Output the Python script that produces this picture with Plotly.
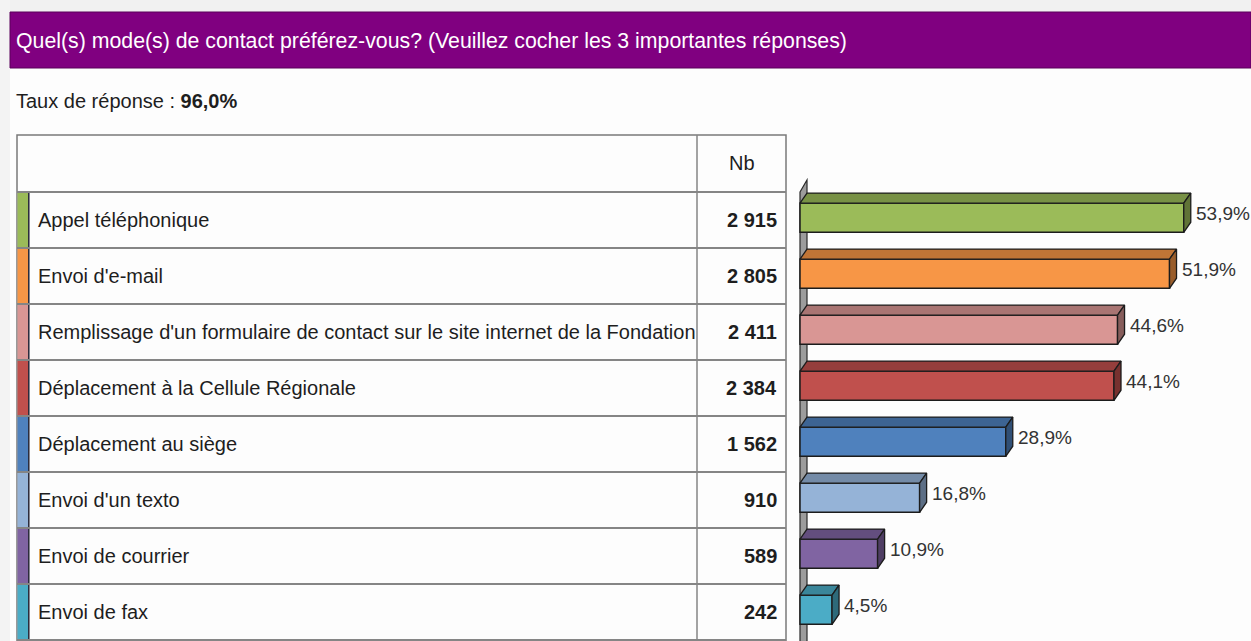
import plotly.graph_objects as go

# ---- data -------------------------------------------------------------
title_text = "Quel(s) mode(s) de contact préférez-vous? (Veuillez cocher les 3 importantes réponses)"
response_rate = "96,0%"
count_header = "Nb"

categories = [
    "Appel téléphonique",
    "Envoi d'e-mail",
    "Remplissage d'un formulaire de contact sur le site internet de la Fondation",
    "Déplacement à la Cellule Régionale",
    "Déplacement au siège",
    "Envoi d'un texto",
    "Envoi de courrier",
    "Envoi de fax",
]
counts = [2915, 2805, 2411, 2384, 1562, 910, 589, 242]
percentages = [53.9, 51.9, 44.6, 44.1, 28.9, 16.8, 10.9, 4.5]
colors = ["#9BBB59", "#F79646", "#D99694", "#C0504D",
          "#4F81BD", "#95B3D7", "#8064A2", "#4BACC6"]

# ---- geometry (pixels) ------------------------------------------------
W, H = 1251, 641
ROW_TOP, ROW_H = 192, 56          # first data row top edge and row height
HEAD_TOP = 135                    # table header top
TBL_L, TBL_R, COL_DIV = 17, 786, 697
STRIP_R = 28
BAR_X0, PX_PER_PCT = 800, 7.12    # where 0 % sits and horizontal scale
DEPTH_X_PX, DEPTH_Y = 7, 0.18     # 3D depth (px horizontally, rows vertically)
BAR_OFF, BAR_W = -0.30, 0.52      # bar front relative to row centre (rows)

FONT = "Liberation Sans, Arial, sans-serif"
TXT = "#1e1e1e"


def px(x):
    return x / W


def py(y):
    return 1 - y / H


def shade(hex_color, f):
    h = hex_color.lstrip("#")
    r, g, b = (int(h[i:i + 2], 16) for i in (0, 2, 4))
    return "#{:02x}{:02x}{:02x}".format(int(r * f), int(g * f), int(b * f))


n = len(categories)
rows = list(range(n))
DX = DEPTH_X_PX / PX_PER_PCT

fig = go.Figure()

# front faces of the bars
fig.add_trace(go.Bar(
    x=percentages, y=rows, orientation="h",
    width=BAR_W, offset=BAR_OFF, base=0,
    marker=dict(color=colors, line=dict(color="#1c1c1c", width=1.5)),
    hoverinfo="skip", showlegend=False,
))

# top and side faces giving the bars their depth
for i, (v, c) in enumerate(zip(percentages, colors)):
    t = i + BAR_OFF
    b = t + BAR_W
    fig.add_trace(go.Scatter(
        x=[0, v, v + DX, DX, 0], y=[t, t, t - DEPTH_Y, t - DEPTH_Y, t],
        mode="lines", fill="toself", fillcolor=shade(c, 0.78),
        line=dict(color="#1c1c1c", width=1.3),
        hoverinfo="skip", showlegend=False,
    ))
    fig.add_trace(go.Scatter(
        x=[v, v + DX, v + DX, v, v], y=[t, t - DEPTH_Y, b - DEPTH_Y, b, t],
        mode="lines", fill="toself", fillcolor=shade(c, 0.62),
        line=dict(color="#1c1c1c", width=1.3),
        hoverinfo="skip", showlegend=False,
    ))
    fig.add_annotation(
        x=v + DX, y=i - 0.12, xref="x", yref="y",
        text=f"{v:.1f}%".replace(".", ","), showarrow=False,
        xanchor="left", yanchor="middle", xshift=3,
        font=dict(family=FONT, size=19, color="#333333"),
    )

shapes = []
# page background details and heading band
shapes.append(dict(type="rect", xref="paper", yref="paper", x0=0, x1=1,
                   y0=py(12), y1=1, fillcolor="#f1f1f1", line_width=0, layer="below"))
shapes.append(dict(type="rect", xref="paper", yref="paper", x0=0, x1=px(10),
                   y0=0, y1=1, fillcolor="#f3f3f3", line_width=0, layer="below"))
shapes.append(dict(type="rect", xref="paper", yref="paper", x0=px(10), x1=1,
                   y0=py(68), y1=py(12), fillcolor="#800080",
                   line=dict(color="#5a005a", width=1), layer="below"))

# 3D axis wall behind the bars
wall = (f"M {px(BAR_X0)} {py(ROW_TOP)} L {px(BAR_X0 + 7)} {py(ROW_TOP - 12)} "
        f"L {px(BAR_X0 + 7)} {py(H + 5)} L {px(BAR_X0)} {py(H + 5)} Z")
shapes.append(dict(type="path", xref="paper", yref="paper", path=wall,
                   fillcolor="#9c9c9c", line=dict(color="#2a2a2a", width=1.2),
                   layer="below"))

# table frame
grid = "#858585"
shapes.append(dict(type="rect", xref="paper", yref="paper",
                   x0=px(TBL_L), x1=px(TBL_R), y0=py(H + 5), y1=py(HEAD_TOP),
                   line=dict(color="#7a7a7a", width=1.5)))
shapes.append(dict(type="line", xref="paper", yref="paper",
                   x0=px(COL_DIV), x1=px(COL_DIV), y0=py(H + 5), y1=py(HEAD_TOP),
                   line=dict(color=grid, width=1.5)))
for k in range(n + 1):
    yk = ROW_TOP + ROW_H * k
    shapes.append(dict(type="line", xref="paper", yref="paper",
                       x0=px(TBL_L), x1=px(TBL_R), y0=py(yk), y1=py(yk),
                       line=dict(color=grid, width=2)))
for i, c in enumerate(colors):
    y0 = ROW_TOP + ROW_H * i + 1
    y1 = ROW_TOP + ROW_H * (i + 1) - 1
    shapes.append(dict(type="rect", xref="paper", yref="paper",
                       x0=px(TBL_L + 0.5), x1=px(STRIP_R), y0=py(y1), y1=py(y0),
                       fillcolor=c, line_width=0))
    shapes.append(dict(type="line", xref="paper", yref="paper",
                       x0=px(STRIP_R + 0.8), x1=px(STRIP_R + 0.8), y0=py(y1), y1=py(y0),
                       line=dict(color="#222233", width=1.5)))

# table text
for i, (cat, cnt) in enumerate(zip(categories, counts)):
    yc = py(ROW_TOP + ROW_H * i + ROW_H / 2)
    fig.add_annotation(x=px(36), y=yc, xref="paper", yref="paper", text=cat,
                       showarrow=False, xanchor="left", yanchor="middle",
                       font=dict(family=FONT, size=20, color=TXT))
    fig.add_annotation(x=px(779), y=yc, xref="paper", yref="paper",
                       text="<b>" + f"{cnt:,}".replace(",", " ") + "</b>",
                       showarrow=False, xanchor="right", yanchor="middle",
                       font=dict(family=FONT, size=20, color=TXT))

fig.add_annotation(x=px(742), y=py(163), xref="paper", yref="paper",
                   text=count_header, showarrow=False, xanchor="center",
                   yanchor="middle", font=dict(family=FONT, size=20, color=TXT))
fig.add_annotation(x=px(14), y=py(41), xref="paper", yref="paper",
                   text=title_text, showarrow=False, xanchor="left",
                   yanchor="middle", font=dict(family=FONT, size=21.3, color="white"))
fig.add_annotation(x=px(14), y=py(101), xref="paper", yref="paper",
                   text="Taux de réponse : <b>" + response_rate + "</b>",
                   showarrow=False, xanchor="left", yanchor="middle",
                   font=dict(family=FONT, size=20, color=TXT))

# axes: x in percent with 0 at the wall, y in row units (row centres)
x_range = [-BAR_X0 / PX_PER_PCT, (W - BAR_X0) / PX_PER_PCT]
row_c0 = ROW_TOP + ROW_H / 2
y_range = [(H - row_c0) / ROW_H, -row_c0 / ROW_H]

fig.update_layout(
    width=W, height=H,
    margin=dict(l=0, r=0, t=0, b=0),
    paper_bgcolor="#fdfdfd", plot_bgcolor="rgba(0,0,0,0)",
    shapes=shapes, barmode="overlay",
    xaxis=dict(domain=[0, 1], range=x_range, visible=False, fixedrange=True),
    yaxis=dict(domain=[0, 1], range=y_range, visible=False, fixedrange=True),
)

fig.write_html("out.html", config={"displayModeBar": False})
